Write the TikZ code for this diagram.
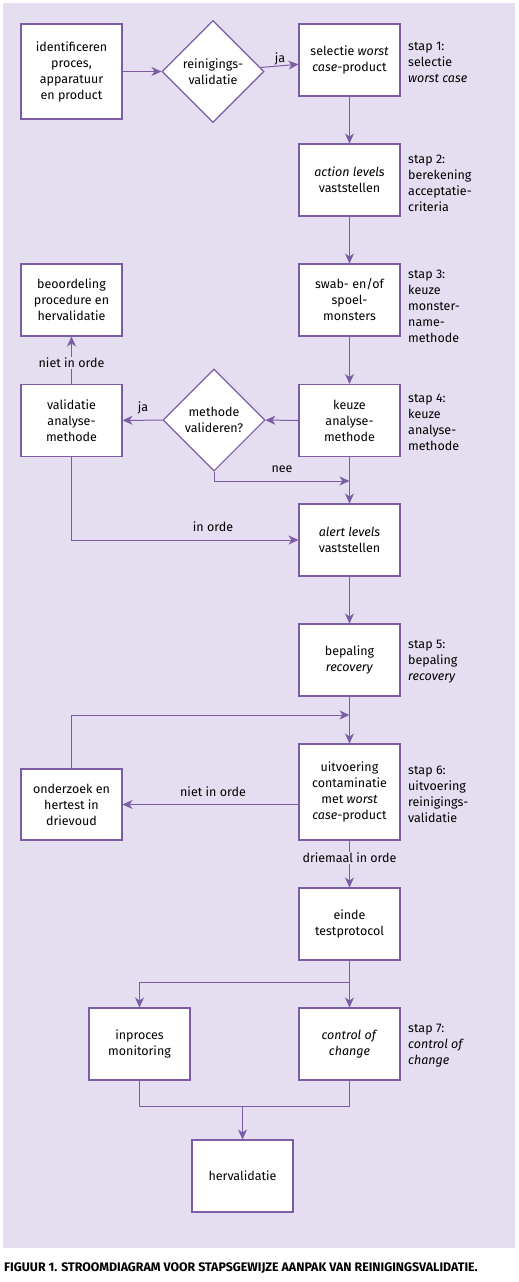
\documentclass[tikz,border=0pt]{standalone}
\usepackage{fontspec}
\setmainfont{Fira Sans}
\usetikzlibrary{arrows.meta,shapes.geometric}
\definecolor{bg}{RGB}{228,222,240}
\definecolor{ln}{RGB}{125,92,166}
\newcommand\boxfont{\fontsize{12.5}{16}\selectfont}
\newcommand\capfont{\fontsize{12.4}{14}\selectfont\bfseries}
\begin{document}
\begin{tikzpicture}[x=1pt,y=-1pt,
  box/.style={draw=ln,fill=white,line width=1.1pt,minimum width=101pt,minimum height=72pt,align=center,inner sep=0pt,font=\boxfont},
  dia/.style={draw=ln,fill=white,line width=1.1pt,diamond,minimum width=102pt,minimum height=102pt,inner sep=0pt},
  txt/.style={align=center,font=\boxfont,inner sep=0pt},
  lbl/.style={font=\boxfont,fill=bg,inner sep=1.5pt},
  lblt/.style={font=\boxfont,inner sep=1pt},
  stp/.style={font=\boxfont,align=left,anchor=west,inner sep=0pt},
  ln/.style={draw=ln,line width=1pt},
  arr/.style={draw=ln,line width=1pt,-{Stealth[length=10pt,width=9pt,inset=3pt]}}]
\useasboundingbox (0,0) rectangle (519,1282);
\fill[bg] (3,3) rectangle (515,1248);
% nodes
\node[box,minimum height=95pt] (id) at (71.5,71.5) {identificeren\\proces,\\apparatuur\\en product};
\node[dia] (d1) at (213,71.5) {};
\node[txt] (d1t) at (d1) {reinigings-\\validatie};
\node[box] (sel) at (349.5,60) {selectie \textit{worst}\\\textit{case}-product};
\node[box] (act) at (349.5,180) {\textit{action levels}\\vaststellen};
\node[box] (swab) at (349.5,300) {swab- en/of\\spoel-\\monsters};
\node[box] (beo) at (71.5,300) {beoordeling\\procedure en\\hervalidatie};
\node[box] (val) at (71.5,420.5) {validatie\\analyse-\\methode};
\node[dia] (d2) at (214,420) {};
\node[txt] (d2t) at (d2) {methode\\valideren?};
\node[box] (keu) at (349.5,420.5) {keuze\\analyse-\\methode};
\node[box] (alert) at (349.5,540) {\textit{alert levels}\\vaststellen};
\node[box] (bep) at (349.5,660) {bepaling\\\textit{recovery}};
\node[box,minimum height=96pt] (uit) at (349.5,792) {uitvoering\\contaminatie\\met \textit{worst}\\\textit{case}-product};
\node[box,minimum height=71pt] (ond) at (71.5,804.5) {onderzoek en\\hertest in\\drievoud};
\node[box] (eind) at (349.5,924) {einde\\testprotocol};
\node[box] (inp) at (139.5,1044) {inproces\\monitoring};
\node[box] (coc) at (349.5,1044) {\textit{control of}\\\textit{change}};
\node[box] (her) at (242.5,1176) {hervalidatie};
% step labels
\node[stp] (s1) at (408,62) {stap 1:\\selectie\\\textit{worst case}};
\node[stp] (s2) at (408,183) {stap 2:\\berekening\\acceptatie-\\criteria};
\node[stp] (s3) at (408,306) {stap 3:\\keuze\\monster-\\name-\\methode};
\node[stp] (s4) at (408,422) {stap 4:\\keuze\\analyse-\\methode};
\node[stp] (s5) at (408,662) {stap 5:\\bepaling\\\textit{recovery}};
\node[stp] (s6) at (408,794) {stap 6:\\uitvoering\\reinigings-\\validatie};
\node[stp] (s7) at (408,1046) {stap 7:\\\textit{control of}\\\textit{change}};
% coordinates
\coordinate (j1) at (349.5,481);
\coordinate (j2) at (349.5,715);
\coordinate (j3) at (349.5,982);
\coordinate (j4) at (242.5,1106);
% connectors
\draw[arr] (id) -- (d1);
\draw[arr] (d1) -- (sel);
\node[lblt] (ja1) at (280,59) {ja};
\draw[arr] (sel) -- (act);
\draw[arr] (act) -- (swab);
\draw[arr] (swab) -- (keu);
\draw[arr] (keu) -- (d2);
\draw[arr] (d2) -- (val);
\node[lblt] (ja2) at (143,408) {ja};
\draw[arr] (val) -- (beo);
\node[lbl] (nio1) at (71.5,363) {niet in orde};
\draw[arr] (d2.south) |- (j1);
\node[lblt] (nee) at (282,469) {nee};
\draw[arr] (keu) -- (alert);
\draw[arr] (val.south) |- (alert.west);
\node[lblt] (io) at (213,527) {in orde};
\draw[arr] (alert) -- (bep);
\draw[arr] (bep) -- (uit);
\draw[arr] (ond.north) |- (j2);
\draw[arr] (uit.west |- ond.east) -- (ond.east);
\node[lblt] (nio2) at (213,792) {niet in orde};
\draw[arr] (uit) -- (eind);
\node[lbl] (dio) at (349.5,858) {driemaal in orde};
\draw[ln] (eind) -- (j3);
\draw[arr] (j3) -- (coc);
\draw[arr] (j3) -| (inp);
\draw[ln] (inp.south) |- (j4) -| (coc.south);
\draw[arr] (j4) -- (her);
% caption
\node[anchor=west,inner sep=0pt,font=\capfont] (cap) at (4,1268) {FIGUUR 1. STROOMDIAGRAM VOOR STAPSGEWIJZE AANPAK VAN REINIGINGSVALIDATIE.};
\end{tikzpicture}
\end{document}
